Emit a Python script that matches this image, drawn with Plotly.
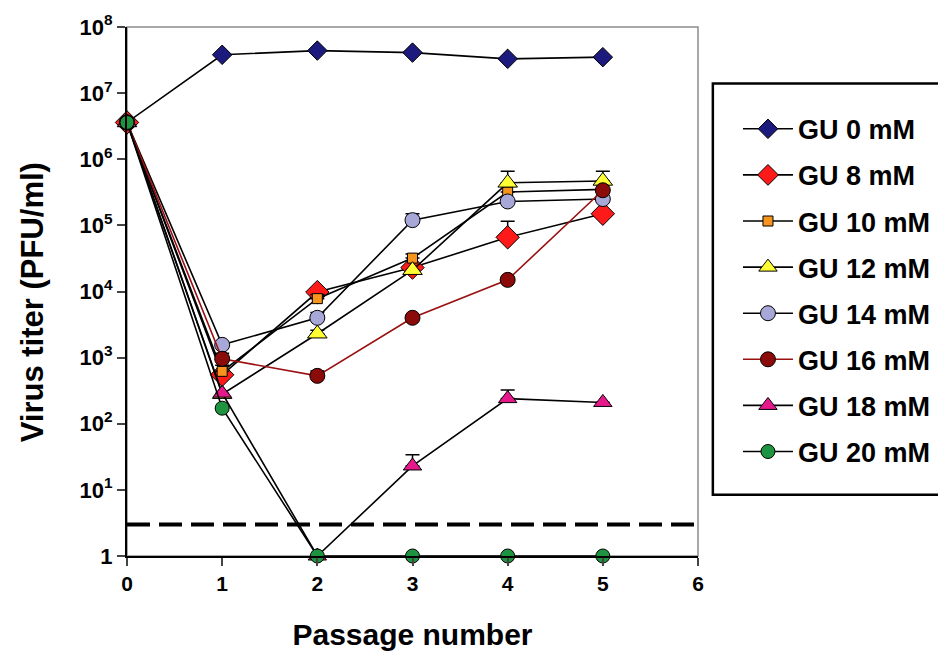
import plotly.graph_objects as go

passages = [0, 1, 2, 3, 4, 5]

gu0 = [3.6e6, 3.8e7, 4.4e7, 4.1e7, 3.3e7, 3.5e7]
gu8 = [3.6e6, 550, 9.8e3, 2.3e4, 6.6e4, 1.5e5]
gu10 = [3.6e6, 620, 7.8e3, 3.2e4, 3.2e5, 3.5e5]
gu12 = [3.6e6, 280, 2.3e3, 2.1e4, 4.4e5, 4.7e5]
gu14 = [3.6e6, 1.56e3, 4.0e3, 1.2e5, 2.3e5, 2.5e5]
gu16 = [3.6e6, 960, 530, 4.0e3, 1.5e4, 3.4e5]
gu18 = [3.6e6, 290, 1, 23, 240, 210]
gu20 = [3.6e6, 172, 1, 1, 1, 1]

# upward error bars (SD)
err0 = [0, 0, 0, 0, 0, 0]
err8 = [0, 60, 1500, 0, 4.9e4, 0]
err10 = [0, 150, 1200, 5000, 0, 0]
err12 = [0, 0, 300, 0, 2.2e5, 1.9e5]
err14 = [0, 0, 800, 3.0e4, 0, 0]
err16 = [0, 200, 100, 0, 0, 0]
err18 = [0, 0, 0, 11, 85, 0]
err20 = [0, 0, 0, 0, 0, 0]

detection_limit = 3
x_ticks = [0, 1, 2, 3, 4, 5, 6]
y_tickvals = [1, 10, 1e2, 1e3, 1e4, 1e5, 1e6, 1e7, 1e8]
y_ticktext = ["1", "10<sup>1</sup>", "10<sup>2</sup>", "10<sup>3</sup>", "10<sup>4</sup>",
              "10<sup>5</sup>", "10<sup>6</sup>", "10<sup>7</sup>", "10<sup>8</sup>"]

series = [
    ("GU 0 mM", gu0, err0, "diamond", "#1c1a7c", 15, "black"),
    ("GU 8 mM", gu8, err8, "diamond", "#ff1a1a", 18, "black"),
    ("GU 10 mM", gu10, err10, "square", "#f7941d", 10, "black"),
    ("GU 12 mM", gu12, err12, "triangle-up", "#ffff33", 17, "black"),
    ("GU 14 mM", gu14, err14, "circle", "#a8a8d8", 15, "black"),
    ("GU 16 mM", gu16, err16, "circle", "#8b0a0a", 15, "#9a1010"),
    ("GU 18 mM", gu18, err18, "triangle-up", "#e6198c", 16, "black"),
    ("GU 20 mM", gu20, err20, "circle", "#1e9440", 14, "black"),
]

FONT = "Arial, Liberation Sans, sans-serif"

fig = go.Figure()

fig.add_trace(go.Scatter(
    x=[0, 6], y=[detection_limit, detection_limit], mode="lines",
    line=dict(color="black", width=4, dash="23px,9px"),
    showlegend=False, hoverinfo="skip", cliponaxis=False))

for i, (name, ys, err, sym, col, size, lcol) in enumerate(series):
    fig.add_trace(go.Scatter(
        x=passages, y=ys, name=name, mode="lines+markers",
        legendgroup=f"g{i}",
        line=dict(color=lcol, width=1.6),
        marker=dict(symbol=sym, size=size, color=col, line=dict(color="black", width=1)),
        error_y=dict(type="data", symmetric=False, array=err,
                     arrayminus=[0] * len(err), color="black", thickness=1.5, width=7),
        cliponaxis=False,
    ))

fig.update_layout(
    width=946, height=659,
    margin=dict(l=119, r=256, t=19, b=111),
    paper_bgcolor="white", plot_bgcolor="white",
    font=dict(family=FONT, color="black"),
    showlegend=True,
    legend=dict(
        x=1.07, xanchor="left", y=0.853, yanchor="top",
        font=dict(family=FONT, size=27, weight="bold"),
        tracegroupgap=8, itemwidth=50,
        bgcolor="rgba(0,0,0,0)",
    ),
    xaxis=dict(
        range=[0, 6], tickvals=x_ticks, ticks="outside", ticklen=8, tickwidth=2,
        showline=True, linecolor="black", linewidth=2, showgrid=False, zeroline=False,
        automargin=False, ticklabeloverflow="allow",
        tickfont=dict(family=FONT, size=21, weight="bold"),
        title=dict(text="Passage number", font=dict(family=FONT, size=30, weight="bold"),
                   standoff=30),
    ),
    yaxis=dict(
        type="log", range=[0, 8], tickvals=y_tickvals, ticktext=y_ticktext,
        ticks="outside", ticklen=8, tickwidth=2,
        showline=True, linecolor="black", linewidth=2, showgrid=False, zeroline=False,
        automargin=False, ticklabeloverflow="allow",
        tickfont=dict(family=FONT, size=22, weight="bold"),
    ),
    annotations=[
        dict(text="Virus titer (PFU/ml)", xref="paper", yref="paper",
             x=-0.166, y=0.48, xanchor="center", yanchor="middle", textangle=-90,
             showarrow=False, font=dict(family=FONT, size=31, weight="bold")),
    ],
    shapes=[
        dict(type="rect", xref="paper", yref="paper", x0=0, x1=1, y0=0, y1=1,
             layer="below", line=dict(color="#8c8c8c", width=1.5)),
        dict(type="rect", xref="paper", yref="paper", x0=1.026, x1=1.431, y0=0.116, y1=0.893,
             line=dict(color="black", width=2.5)),
    ],
)

fig.write_html("out.html")
